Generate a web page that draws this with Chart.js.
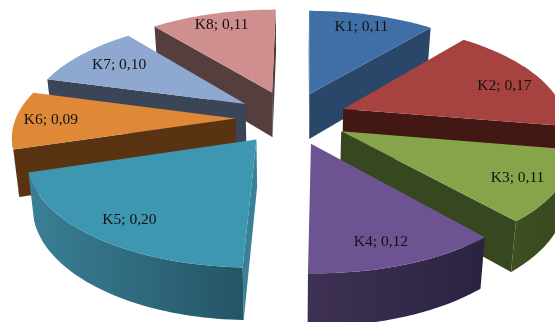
<!DOCTYPE html>
<html>
<head>
<meta charset="utf-8">
<style>
  html, body { margin: 0; padding: 0; background: #fff; }
  #wrap { width: 555px; height: 322px; overflow: hidden; }
</style>
<script src="https://cdn.jsdelivr.net/npm/chart.js@4/dist/chart.umd.min.js"></script>
</head>
<body>
<div id="wrap"><canvas id="pie" width="555" height="322"></canvas></div>
<script>
const categories = ['K1', 'K2', 'K3', 'K4', 'K5', 'K6', 'K7', 'K8'];
const shares = [0.11, 0.17, 0.11, 0.12, 0.20, 0.09, 0.10, 0.11];
const explode = [56, 56, 56, 56, 56, 56, 56, 60];
const topColors = ['#3F6FA6', '#A6423F', '#86A44A', '#6D5391', '#3E97B0', '#DF8838', '#8EA8D0', '#CE8F8E'];
const wallLight = ['#2D4E75', '#4A1A17', '#3E4F22', '#3E3155', '#3A8097', '#5A3313', '#3A4558', '#563E3E'];
const wallDark  = ['#2A4668', '#431714', '#374720', '#2B2240', '#245564', '#56300F', '#384354', '#503A3A'];

// Tilted-view settings for the extruded pie
const tilt = { squash: 0.47, perspective: 0.00068, depth: 46, baseShrink: 0.978, apexShift: 1.5, rimShift: 3, rimStretch: 1.015 };
const labelReach = [0.84, 0.82, 0.84, 0.83, 0.83, 0.85, 0.77, 0.84];
const labelSweep = [0.5, 0.56, 0.5, 0.53, 0.49, 0.5, 0.5, 0.5];
const labelShift = 2;

const pie3d = {
  id: 'pie3d',
  beforeDatasetsDraw(chart) {
    const ctx = chart.ctx;
    const arcs = chart.getDatasetMeta(0).data;
    const faces = [];

    const project = (cx, cy, gx, gy, shift, stretch) => {
      const w = 1 + tilt.perspective * gy;
      return { x: cx + shift + stretch * gx / w, y: cy - tilt.squash * gy / w, w };
    };
    const base = (cx, cy, p) => ({
      x: cx + (p.x - cx) * tilt.baseShrink,
      y: cy + (p.y - cy) * tilt.baseShrink + tilt.depth / p.w
    });

    arcs.forEach((arc, i) => {
      const cx = arc.x, cy = arc.y;
      const r = arc.outerRadius;
      const span = arc.endAngle - arc.startAngle;
      const mid = arc.startAngle + span / 2;
      const off = arc.options.offset;
      const ax = Math.cos(mid) * off, ay = -Math.sin(mid) * off;
      const rim = [];
      const n = 48;
      for (let s = 0; s <= n; s++) {
        const a = arc.startAngle + span * s / n;
        rim.push(project(cx, cy, ax + r * Math.cos(a), ay - r * Math.sin(a), tilt.rimShift, tilt.rimStretch));
      }
      const reach = labelReach[i];
      const la = arc.startAngle + span * labelSweep[i];
      const labelAt = project(cx, cy, ax + r * reach * Math.cos(la), ay - r * reach * Math.sin(la), labelShift, 1);
      faces.push({ i, cx, cy, apex: project(cx, cy, ax, ay, tilt.apexShift, 1), rim, depthKey: ay, labelAt });
    });

    // Far slices first so nearer slices cover them
    faces.slice().sort((a, b) => b.depthKey - a.depthKey).forEach(f => {
      const { i, cx, cy, apex, rim } = f;
      const wall = (points, fill) => {
        const lower = points.map(p => base(cx, cy, p)).reverse();
        ctx.beginPath();
        points.concat(lower).forEach((p, k) => k ? ctx.lineTo(p.x, p.y) : ctx.moveTo(p.x, p.y));
        ctx.closePath();
        ctx.fillStyle = fill;
        ctx.fill();
      };
      const first = rim[0], last = rim[rim.length - 1];
      if (first.x < apex.x) wall([apex, first], wallLight[i]);
      if (apex.x < last.x) wall([last, apex], wallDark[i]);

      // Outer wall: only the stretch of rim that faces the viewer, shaded across its width
      const front = rim.filter((p, s) =>
        (s < rim.length - 1 && rim[s + 1].x < p.x) || (s > 0 && p.x < rim[s - 1].x));
      if (front.length > 1) {
        const xs = front.map(p => p.x);
        const grad = ctx.createLinearGradient(Math.min(...xs), 0, Math.max(...xs), 0);
        grad.addColorStop(0, wallLight[i]);
        grad.addColorStop(1, wallDark[i]);
        wall(front, grad);
      }

      ctx.beginPath();
      ctx.moveTo(apex.x, apex.y);
      rim.forEach(p => ctx.lineTo(p.x, p.y));
      ctx.closePath();
      ctx.fillStyle = topColors[i];
      ctx.fill();
    });

    ctx.fillStyle = '#111';
    ctx.font = '15.5px "Liberation Serif"';
    ctx.textAlign = 'center';
    ctx.textBaseline = 'middle';
    faces.forEach(f => {
      const text = categories[f.i] + '; ' + shares[f.i].toFixed(2).replace('.', ',');
      ctx.fillText(text, f.labelAt.x, f.labelAt.y);
    });
    return false;
  }
};

new Chart(document.getElementById('pie'), {
  type: 'pie',
  data: {
    labels: categories,
    datasets: [{ data: shares, backgroundColor: topColors, borderWidth: 0, offset: explode }]
  },
  options: {
    responsive: false,
    animation: false,
    radius: 217,
    layout: { padding: { left: 25, bottom: 86 } },
    plugins: { legend: { display: false }, tooltip: { enabled: false } }
  },
  plugins: [pie3d]
});
</script>
</body>
</html>
